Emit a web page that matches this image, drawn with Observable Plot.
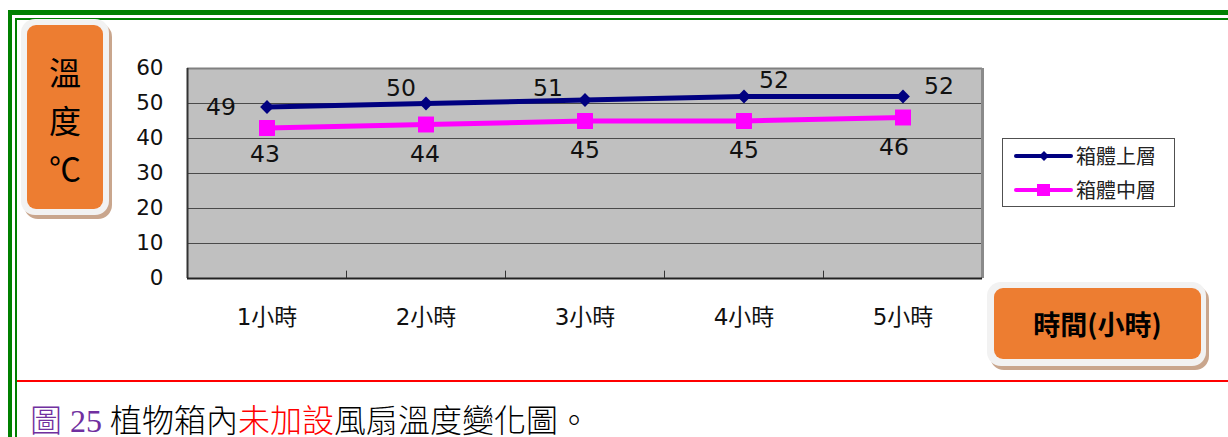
<!DOCTYPE html>
<html>
<head>
<meta charset="utf-8">
<script src="https://cdn.jsdelivr.net/npm/d3@7"></script>
<script src="https://cdn.jsdelivr.net/npm/@observablehq/plot@0.6"></script>
<style>
  html, body { margin: 0; padding: 0; background: #fff; }
  body { width: 1228px; height: 437px; position: relative; overflow: hidden;
         font-family: "Open Sans", "Noto Sans CJK TC", sans-serif; }
  .abs { position: absolute; }
  .green { background: #008000; }
  .rim { position: absolute; background: #f2f2f2; border-radius: 14px; box-shadow: 3px 4px 0 #c9a68d; }
  .orange { position: absolute; background: #ED7D31; border-radius: 9px; color: #000;
            font-family: "Noto Sans CJK TC", sans-serif; text-align: center; }
  #chart { position: absolute; left: 0; top: 0; }
  #chart g[aria-label="y-axis tick label"] text { font-size: 21.5px !important; }
  #chart g[aria-label="x-axis tick label"] text { font-size: 23px !important; }
  #legend { position: absolute; left: 1002px; top: 138px; width: 171px; height: 67px;
            border: 1px solid #505050; background: #fff; }
  #caption { position: absolute; left: 30px; top: 395px; font-size: 32px; white-space: nowrap;
             font-family: "Liberation Serif", "Noto Sans CJK TC", serif; font-weight: 300; color: #000; }
</style>
</head>
<body>
<div class="abs green" style="left:8px;top:10px;width:1220px;height:5px"></div>
<div class="abs green" style="left:15px;top:18px;width:1213px;height:2px"></div>
<div class="abs green" style="left:8px;top:10px;width:4px;height:427px"></div>
<div class="abs green" style="left:15px;top:18px;width:2px;height:419px"></div>
<div class="abs" style="left:17px;top:380px;width:1211px;height:2px;background:#FF0000"></div>

<div id="chart"></div>

<div class="rim" style="left:21px;top:19px;width:88px;height:196px"></div>
<div class="orange" id="ylab" style="left:27px;top:25px;width:76px;height:184px;font-size:32px;line-height:48px"></div>

<div class="rim" style="left:987px;top:282px;width:219px;height:84px"></div>
<div class="orange" id="xlab" style="left:994px;top:288px;width:207px;height:71px;font-size:27px;font-weight:bold;line-height:71px"></div>

<div id="legend"></div>
<div id="caption"></div>

<script>
// ---- data ----
const categories = ["1小時", "2小時", "3小時", "4小時", "5小時"];
const upperValues = [49, 50, 51, 52, 52];
const middleValues = [43, 44, 45, 45, 46];
const seriesNames = ["箱體上層", "箱體中層"];
const yTicks = [0, 10, 20, 30, 40, 50, 60];
const yTitle = ["溫", "度", "℃"];
const xTitle = "時間(小時)";
const captionParts = [["圖 25 ", "#7030A0"], ["植物箱內", "#000"], ["未加設", "#FF0000"], ["風扇溫度變化圖。", "#000"]];
// label placement (pixel offsets from each point)
const upperLabelOffsets = [[-46, 0], [-25, -15], [-37, -12], [30, -16], [36, -10]];
const middleLabelOffsets = [[-2, 26], [-1, 30], [0, 29], [0, 29], [-9, 30]];

const upper = categories.map((c, i) => ({i: i + 1, cat: c, v: upperValues[i]}));
const middle = categories.map((c, i) => ({i: i + 1, cat: c, v: middleValues[i]}));
const boundaries = d3.range(1.5, categories.length, 1);

const chartFont = "'DejaVu Sans', 'Noto Sans CJK TC', sans-serif";
const labelMarks = [];
upper.forEach((d, k) => labelMarks.push(Plot.text([d], {x: "i", y: "v", text: d => String(d.v),
  dx: upperLabelOffsets[k][0], dy: upperLabelOffsets[k][1], fontSize: 23.5, fontFamily: chartFont, fill: "#111"})));
middle.forEach((d, k) => labelMarks.push(Plot.text([d], {x: "i", y: "v", text: d => String(d.v),
  dx: middleLabelOffsets[k][0], dy: middleLabelOffsets[k][1], fontSize: 23.5, fontFamily: chartFont, fill: "#111"})));

const plot = Plot.plot({
  width: 1228,
  height: 340,
  marginLeft: 187,
  marginRight: 246,
  marginTop: 68,
  marginBottom: 62,
  style: {background: "transparent", fontFamily: chartFont, fontSize: "22px", color: "#111", overflow: "visible"},
  x: {type: "linear", domain: [0.5, categories.length + 0.5]},
  y: {domain: [0, 60]},
  marks: [
    Plot.frame({fill: "#C0C0C0", stroke: null}),
    Plot.ruleY(yTicks.filter(t => t > 0 && t < 60), {stroke: "#4a4a4a", strokeWidth: 1}),
    Plot.ruleY([60], {stroke: "#808080", strokeWidth: 2}),
    Plot.ruleX([categories.length + 0.5], {stroke: "#8a8a8a", strokeWidth: 3}),
    Plot.ruleX([0.5], {stroke: "#333", strokeWidth: 2}),
    Plot.ruleY([0], {stroke: "#222", strokeWidth: 2}),
    Plot.ruleX(boundaries, {y1: 0, y2: 2.1, stroke: "#333", strokeWidth: 1}),
    Plot.axisY({ticks: yTicks, tickSize: 0, tickPadding: 24, label: null}),
    Plot.axisX({ticks: d3.range(1, categories.length + 1), tickFormat: i => categories[i - 1],
      tickSize: 0, tickPadding: 30, label: null}),
    Plot.lineY(upper, {x: "i", y: "v", stroke: "#000080", strokeWidth: 5}),
    Plot.dot(upper, {x: "i", y: "v", symbol: "diamond2", r: 6.2, fill: "#000080", stroke: "none"}),
    Plot.lineY(middle, {x: "i", y: "v", stroke: "#FF00FF", strokeWidth: 5}),
    Plot.dot(middle, {x: "i", y: "v", symbol: "square", r: 9, fill: "#FF00FF", stroke: "none"}),
    ...labelMarks
  ]
});
document.getElementById("chart").appendChild(plot);

// axis titles in orange boxes
const ylab = document.getElementById("ylab");
ylab.style.paddingTop = "22px";
ylab.style.height = "162px";
ylab.innerHTML = yTitle.map(t => `<div>${t}</div>`).join("");
document.getElementById("xlab").textContent = xTitle;

// legend
const legendColors = ["#000080", "#FF00FF"];
const legendSymbols = ["diamond", "square"];
const leg = document.getElementById("legend");
leg.innerHTML = seriesNames.map((n, k) => {
  const y = k === 0 ? 17 : 51;
  const marker = legendSymbols[k] === "diamond"
    ? `<path d="M41,${y-5}L46,${y}L41,${y+5}L36,${y}Z" fill="${legendColors[k]}"/>`
    : `<rect x="34" y="${y-6}" width="13" height="12" fill="${legendColors[k]}"/>`;
  return `<svg class="abs" style="left:0;top:0" width="72" height="67">
      <line x1="13" x2="68" y1="${y}" y2="${y}" stroke="${legendColors[k]}" stroke-width="4" stroke-linecap="round"/>${marker}</svg>
    <div class="abs" style="left:73px;top:${y - 14}px;font-size:20px;line-height:28px;color:#222;font-family:'Noto Sans CJK TC',sans-serif">${n}</div>`;
}).join("");

// caption
document.getElementById("caption").innerHTML = captionParts.map(([t, c]) => `<span style="color:${c}">${t}</span>`).join("");
</script>
</body>
</html>
